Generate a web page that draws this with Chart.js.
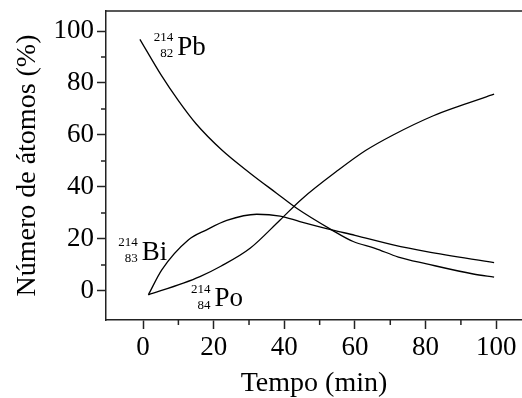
<!DOCTYPE html>
<html>
<head>
<meta charset="utf-8">
<script src="https://cdn.jsdelivr.net/npm/chart.js@4"></script>
<style>
    html, body { margin: 0; padding: 0; background: #fff; }
    #wrap { width: 522px; height: 398px; }
</style>
</head>
<body>
<div id="wrap"><canvas id="chart"></canvas></div>
<script>
// values (time in min, atoms in %)
const pbTime = [-0.9, 5, 10, 15, 22.3, 30.3, 37.8, 43.5, 53.4, 59.5, 65.7, 72.3, 80.3, 93.5, 99.4];
const pbValues = [96.8, 83.3, 73.2, 64.3, 54.2, 45.3, 37.6, 31.8, 23.5, 19, 16.4, 13, 10.4, 6.5, 5.3];

const biTime = [1.5, 5.3, 12.8, 18, 23.7, 32.2, 38.8, 44.4, 53.4, 60, 70.8, 80.3, 99.4];
const biValues = [-1.5, 8.1, 19.6, 23.5, 27.1, 29.5, 28.8, 26.7, 23.5, 21.4, 17.7, 15.1, 10.9];

const poTime = [1.5, 11.4, 16.1, 22, 30.3, 38.8, 44.9, 55.3, 63, 70.8, 82.2, 89.7, 99.4];
const poValues = [-1.5, 3, 5.5, 9.5, 16.4, 27.3, 35.3, 46.5, 54, 60, 67.4, 71.2, 75.7];

const minorTicks = [10, 30, 50, 70, 90];

const isotopeSymbols = ['Pb', 'Bi', 'Po'];
const massNumbers = ['214', '214', '214'];
const atomicNumbers = ['82', '83', '84'];

const axisColor = '#222';
const serif = "'Liberation Serif', 'DejaVu Serif', serif";

// where each isotope name sits, in data units (left edge of symbol, baseline)
const labelSpots = [[9.7, 90.8], [-0.4, 11.9], [20.2, -6]];

function points(xs, ys) {
    return xs.map((t, i) => ({ x: t, y: ys[i] }));
}

const decorations = {
    id: 'decorations',
    afterDraw(chart) {
        const ctx = chart.ctx;
        const area = chart.chartArea;
        const xs = chart.scales.x;
        const ys = chart.scales.y;
        ctx.save();
        ctx.strokeStyle = axisColor;
        ctx.lineWidth = 1.5;
        ctx.beginPath();
        ctx.moveTo(area.left, area.top);
        ctx.lineTo(area.right, area.top);
        for (const v of minorTicks) {
            const px = xs.getPixelForValue(v);
            ctx.moveTo(px, area.bottom);
            ctx.lineTo(px, area.bottom + 5);
            const py = ys.getPixelForValue(v);
            ctx.moveTo(area.left, py);
            ctx.lineTo(area.left - 5, py);
        }
        ctx.stroke();

        ctx.fillStyle = '#000';
        ctx.textBaseline = 'alphabetic';
        isotopeSymbols.forEach((sym, i) => {
            const x = xs.getPixelForValue(labelSpots[i][0]);
            const y = ys.getPixelForValue(labelSpots[i][1]);
            ctx.font = '27px ' + serif;
            ctx.textAlign = 'left';
            ctx.fillText(sym, x, y);
            ctx.font = '13px ' + serif;
            ctx.textAlign = 'right';
            ctx.fillText(massNumbers[i], x - 4, y - 13.5);
            ctx.fillText(atomicNumbers[i], x - 4, y + 2.5);
        });
        ctx.restore();
    }
};

const lineStyle = {
    borderColor: '#000',
    borderWidth: 1.3,
    pointRadius: 0,
    cubicInterpolationMode: 'monotone',
    fill: false
};

new Chart(document.getElementById('chart'), {
    type: 'line',
    data: {
        datasets: [
            { label: 'Pb', data: points(pbTime, pbValues), ...lineStyle },
            { label: 'Bi', data: points(biTime, biValues), ...lineStyle },
            { label: 'Po', data: points(poTime, poValues), ...lineStyle }
        ]
    },
    options: {
        responsive: true,
        maintainAspectRatio: false,
        animation: false,
        layout: {
            padding: { top: 11, right: 0, left: 0, bottom: 0 }
        },
        scales: {
            x: {
                type: 'linear',
                min: -10.5,
                max: 107.3,
                afterFit(scale) {
                    scale.height = 78;
                    scale.paddingLeft = 0;
                    scale.paddingRight = 0;
                },
                border: { color: axisColor, width: 1.5 },
                grid: {
                    drawOnChartArea: false,
                    drawTicks: true,
                    tickLength: 9,
                    tickColor: axisColor,
                    tickWidth: 1.5
                },
                ticks: {
                    stepSize: 20,
                    includeBounds: false,
                    color: '#000',
                    padding: 3,
                    maxRotation: 0,
                    font: { family: serif, size: 27 }
                },
                title: {
                    display: true,
                    text: 'Tempo (min)',
                    color: '#000',
                    padding: { top: 0, bottom: 0.5 },
                    font: { family: serif, size: 28, lineHeight: 1 }
                }
            },
            y: {
                type: 'linear',
                min: -11.2,
                max: 107.7,
                afterFit(scale) {
                    scale.width = 106;
                    scale.paddingTop = 0;
                    scale.paddingBottom = 0;
                },
                border: { color: axisColor, width: 1.5 },
                grid: {
                    drawOnChartArea: false,
                    drawTicks: true,
                    tickLength: 9,
                    tickColor: axisColor,
                    tickWidth: 1.5
                },
                ticks: {
                    stepSize: 20,
                    includeBounds: false,
                    color: '#000',
                    padding: 3,
                    font: { family: serif, size: 27 }
                },
                title: {
                    display: true,
                    text: 'Número de átomos (%)',
                    color: '#000',
                    padding: { top: 13.5, bottom: 0 },
                    font: { family: serif, size: 28, lineHeight: 1 }
                }
            }
        },
        plugins: {
            legend: { display: false },
            tooltip: { enabled: false }
        }
    },
    plugins: [decorations]
});
</script>
</body>
</html>
